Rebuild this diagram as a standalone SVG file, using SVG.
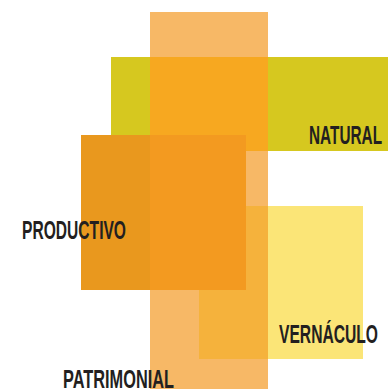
<svg xmlns="http://www.w3.org/2000/svg" width="388" height="389" viewBox="0 0 388 389">
<style>
.lbl{font-family:"Liberation Sans",Arial,sans-serif;font-size:26px;font-weight:bold;fill:#231F20}
</style>
<rect width="388" height="389" fill="#FFFFFF"/>
<g id="natural">
<rect x="111" y="57" width="277" height="94" fill="#D6C81F"/>
</g>
<g id="vernaculo">
<rect x="199" y="206" width="164" height="153" fill="#FBE577"/>
</g>
<g id="patrimonial">
<rect x="150" y="12" width="118" height="377" fill="#F7B866"/>
<rect x="150" y="57" width="118" height="94" fill="#F7A820"/>
<rect x="199" y="206" width="69" height="153" fill="#F5B23C"/>
</g>
<g id="productivo">
<rect x="81" y="135" width="165" height="155" fill="#E9981E"/>
<rect x="150" y="135" width="96" height="155" fill="#F39A20"/>
</g>
<g id="labels">
<text class="lbl" x="309" y="144" textLength="73" lengthAdjust="spacingAndGlyphs">NATURAL</text>
<text class="lbl" x="22" y="239" textLength="104" lengthAdjust="spacingAndGlyphs">PRODUCTIVO</text>
<text class="lbl" x="279" y="343" textLength="99" lengthAdjust="spacingAndGlyphs">VERNÁCULO</text>
<text class="lbl" x="63" y="388" textLength="111" lengthAdjust="spacingAndGlyphs">PATRIMONIAL</text>
</g>
</svg>
